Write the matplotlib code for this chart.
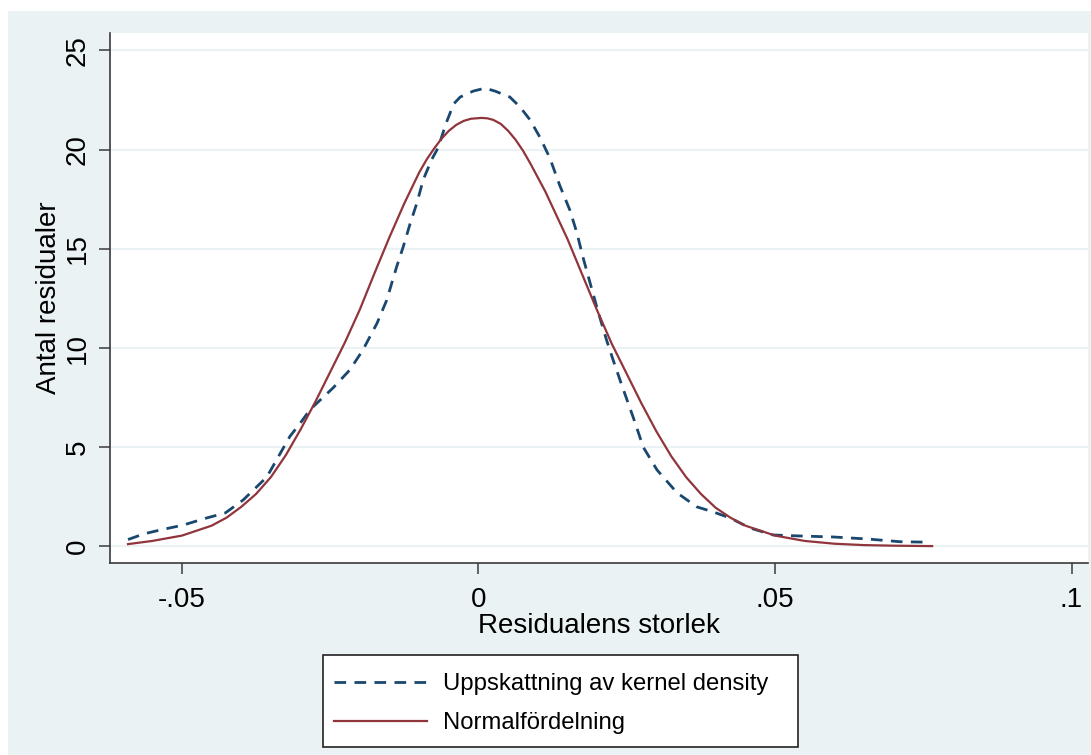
import matplotlib
matplotlib.use("Agg")
import matplotlib.pyplot as plt
from matplotlib.patches import Rectangle

plt.rcParams['font.family'] = ['Liberation Sans', 'DejaVu Sans']

# Kernel density estimate of the residuals
kernel_x = [-0.0591, -0.0565, -0.0537, -0.0498, -0.0458, -0.0427, -0.0397, -0.0357,
            -0.0318, -0.0301, -0.0284, -0.0245, -0.0217, -0.0195, -0.0171, -0.0155,
            -0.0138, -0.0127, -0.0115, -0.0104, -0.0093, -0.0079, -0.0068, -0.0055,
            -0.0042, -0.0031, -0.0009, 0.0011, 0.0028, 0.0053, 0.0070, 0.0087,
            0.0104, 0.0120, 0.0137, 0.0154, 0.0166, 0.0176, 0.0188, 0.0202,
            0.0216, 0.0227, 0.0242, 0.0261, 0.0278, 0.0301, 0.0335, 0.0368,
            0.0396, 0.0424, 0.0458, 0.0497, 0.0542, 0.0598, 0.0655, 0.0711, 0.0753]
kernel_y = [0.35, 0.63, 0.83, 1.08, 1.44, 1.69, 2.34, 3.5,
            5.55, 6.2, 6.9, 8.0, 8.9, 9.9, 11.26, 12.4,
            14.1, 15.1, 16.3, 17.3, 18.5, 19.5, 20.1, 21.3,
            22.3, 22.65, 22.95, 23.1, 22.95, 22.65, 22.15, 21.5,
            20.6, 19.6, 18.2, 16.96, 15.8, 14.6, 13.3, 11.8,
            10.4, 9.4, 8.1, 6.5, 5.0, 3.86, 2.7, 2.0,
            1.74, 1.44, 0.93, 0.58, 0.53, 0.48, 0.38, 0.24, 0.22]

# Normal distribution curve
normal_x = [-0.0591, -0.055, -0.050, -0.045, -0.0425, -0.040, -0.0375, -0.035,
            -0.0325, -0.030, -0.0275, -0.025, -0.0225, -0.020, -0.0175, -0.015,
            -0.0125, -0.010, -0.00875, -0.0075, -0.00625, -0.005, -0.00375, -0.0025,
            -0.00125, 0.0005, 0.0015, 0.0025, 0.00375, 0.005, 0.00625, 0.0075,
            0.00875, 0.010, 0.01125, 0.0125, 0.015, 0.0175, 0.020, 0.0225,
            0.025, 0.0275, 0.030, 0.0325, 0.035, 0.0375, 0.040, 0.0425,
            0.045, 0.050, 0.055, 0.060, 0.065, 0.070, 0.0765]
normal_y = [0.12, 0.28, 0.55, 1.05, 1.45, 2.0, 2.65, 3.5,
            4.6, 5.9, 7.3, 8.8, 10.3, 11.95, 13.8, 15.6,
            17.3, 18.85, 19.5, 20.05, 20.55, 20.95, 21.25, 21.45,
            21.56, 21.6, 21.58, 21.5, 21.3, 20.95, 20.5, 19.95,
            19.3, 18.6, 17.9, 17.1, 15.5, 13.7, 11.9, 10.2,
            8.7, 7.2, 5.8, 4.55, 3.5, 2.65, 1.95, 1.45,
            1.05, 0.55, 0.28, 0.14, 0.07, 0.04, 0.02]

x_ticks = [-0.05, 0, 0.05, 0.1]
x_tick_labels = ['-.05', '0', '.05', '.1']
y_ticks = [0, 5, 10, 15, 20, 25]
y_tick_labels = ['0', '5', '10', '15', '20', '25']

series_labels = ['Uppskattning av kernel density', 'Normalfördelning']

W, H = 1091, 755
BG = '#EAF2F3'
NAVY = '#1A476F'
MAROON = '#90353B'
AXIS = '#3A3A3A'

fig = plt.figure(figsize=(W / 100, H / 100), dpi=100, facecolor='white')
# graph region background
fig.patches.append(Rectangle((8 / W, 0), 1 - 8 / W, 1 - 11 / H,
                             transform=fig.transFigure, facecolor=BG,
                             edgecolor='none', zorder=-10))
# legend box
fig.patches.append(Rectangle((323 / W, 1 - 747 / H), 475 / W, 92 / H,
                             transform=fig.transFigure, facecolor='white',
                             edgecolor='#222222', lw=1.2, zorder=-5))

ax = fig.add_axes([110 / W, 1 - 563 / H, (1088 - 110) / W, (563 - 33) / H])
ax.set_zorder(1)
ax.set_facecolor('white')

ax.plot(kernel_x, kernel_y, color=NAVY, lw=2.0, dashes=(4.2, 3.0),
        dash_capstyle='butt', label=series_labels[0], zorder=3)
ax.plot(normal_x, normal_y, color=MAROON, lw=1.6, label=series_labels[1], zorder=3)

ax.set_xlim(-0.06214, 0.10278)
ax.set_ylim(-0.832, 25.88)

ax.set_xticks(x_ticks)
ax.set_xticklabels(x_tick_labels)
ax.set_yticks(y_ticks)
ax.set_yticklabels(y_tick_labels, rotation=90, va='center')

ax.yaxis.grid(True, color=BG, lw=1.5)
ax.xaxis.grid(False)
ax.set_axisbelow(True)

for side in ('top', 'right'):
    ax.spines[side].set_visible(False)
for side in ('left', 'bottom'):
    ax.spines[side].set_color(AXIS)
    ax.spines[side].set_linewidth(1.2)

ax.tick_params(axis='both', direction='out', length=8, width=1.1,
               color=AXIS, labelsize=20, labelcolor='black')
ax.tick_params(axis='x', pad=9)
ax.tick_params(axis='y', pad=6)

ax.set_xlabel('Residualens storlek', fontsize=20, labelpad=0)
ax.set_ylabel('Antal residualer', fontsize=20, labelpad=2)

leg = ax.legend(loc='upper left', bbox_to_anchor=(323 / W, 1 - 662 / H),
                bbox_transform=fig.transFigure, borderaxespad=0,
                fontsize=17.2, handlelength=3.9, handletextpad=0.67,
                labelspacing=0.73, borderpad=0.46, frameon=False)

fig.savefig('out.png', dpi=100, facecolor=fig.get_facecolor())
